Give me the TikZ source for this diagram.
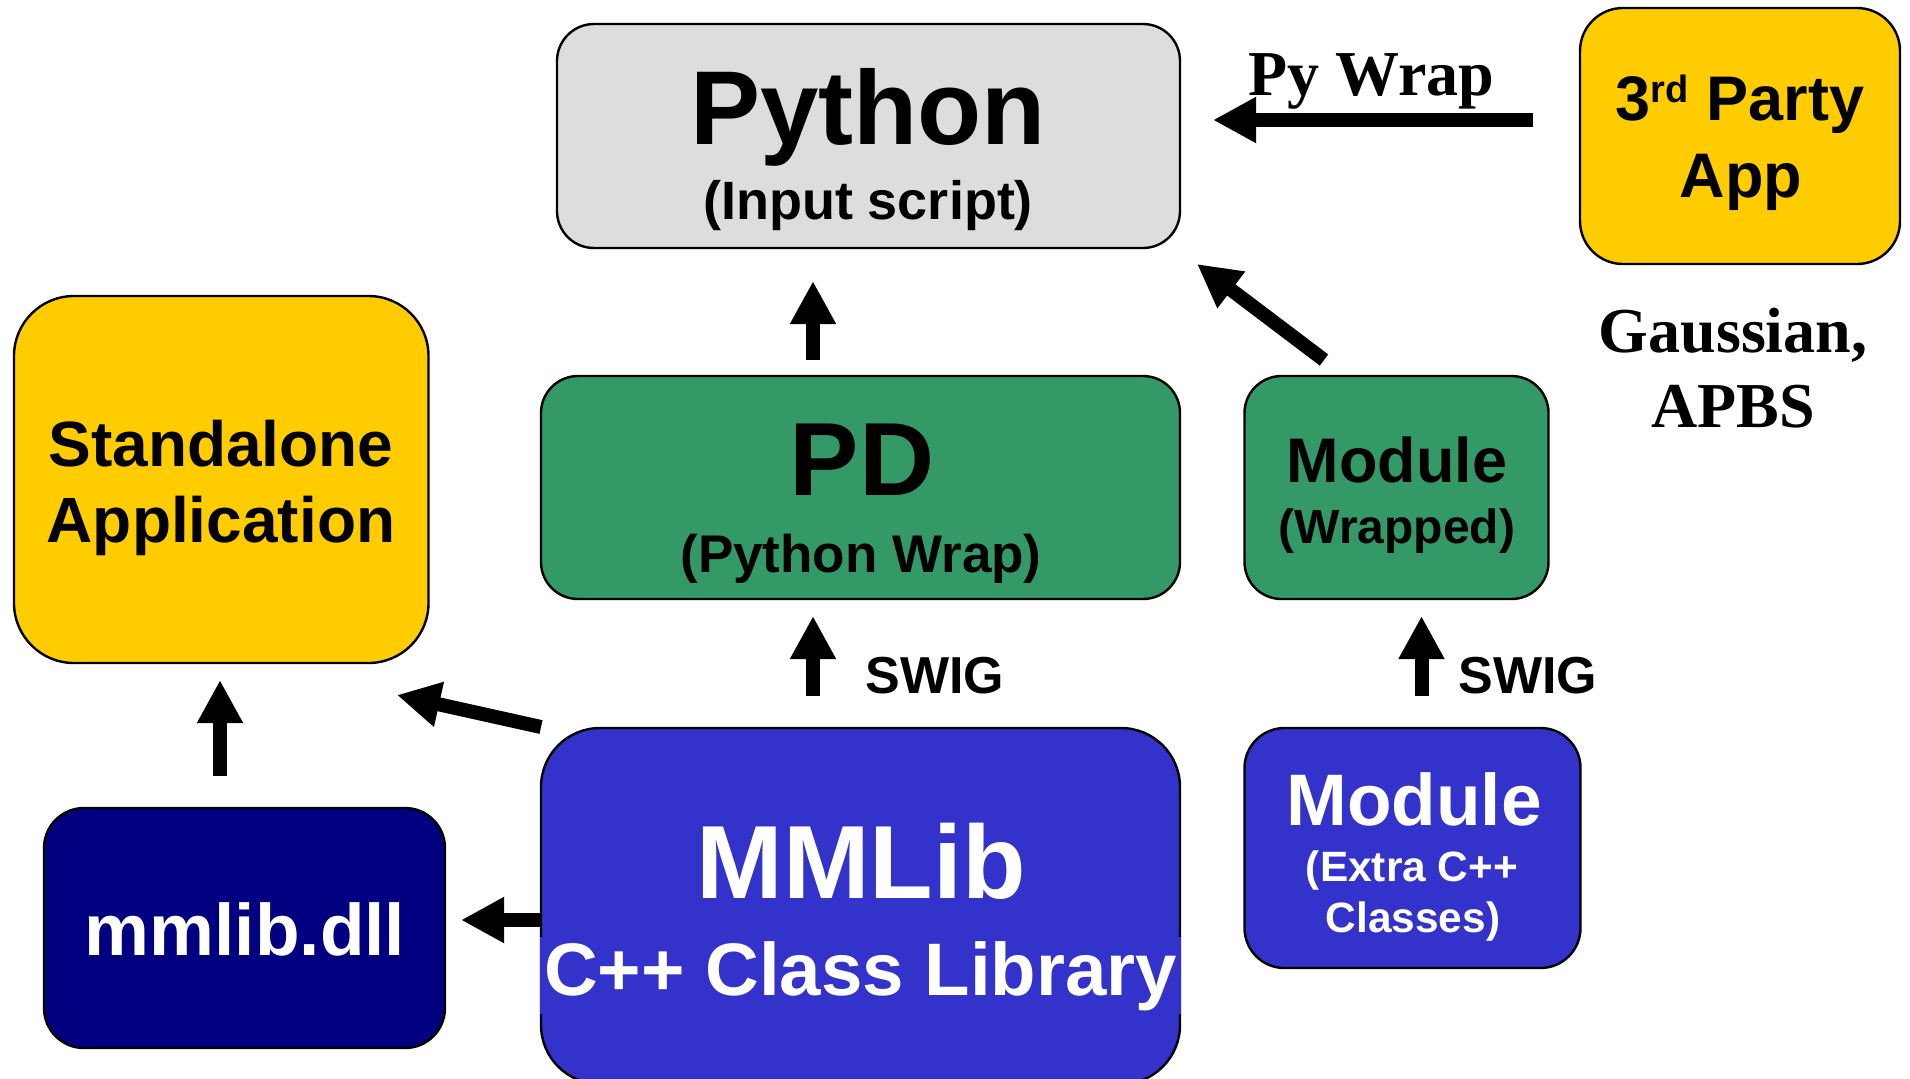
\documentclass[tikz,border=0pt]{standalone}
\usepackage{fontspec}
\setmainfont{Liberation Sans}
\newfontfamily\serifb{Liberation Serif}
\usetikzlibrary{arrows.meta}
\definecolor{boxgray}{HTML}{DDDDDD}
\definecolor{boxyellow}{HTML}{FFCC00}
\definecolor{boxgreen}{HTML}{339966}
\definecolor{boxnavy}{HTML}{000080}
\definecolor{boxblue}{HTML}{3333CC}
\newcommand\fsz[1]{\fontsize{#1}{#1}\selectfont}
\begin{document}
\begin{tikzpicture}[x=0.5pt,y=-0.5pt,
  box/.style={draw=black,line width=1.2pt,inner sep=0pt},
  lbl/.style={inner sep=0pt,anchor=base,font=\bfseries},
  wlbl/.style={lbl,text=white},
  bigarr/.style={line width=7pt,-{Triangle[length=21.5pt,width=21.5pt]}}]
\useasboundingbox (0,0) rectangle (1910,1078);

% boxes
\node[box,fill=boxgray,minimum width=311.5pt,minimum height=112pt,rounded corners=18.5pt] (python) at (868.5,136) {};
\node[box,fill=boxyellow,minimum width=207.25pt,minimum height=183.5pt,rounded corners=30pt] (standalone) at (221.25,479.5) {};
\node[box,fill=boxgreen,minimum width=319.5pt,minimum height=111.5pt,rounded corners=18.5pt] (pd) at (860.5,487.5) {};
\node[box,fill=boxgreen,minimum width=152pt,minimum height=111.5pt,rounded corners=18.5pt] (modw) at (1396.5,487.5) {};
\node[box,fill=boxyellow,minimum width=160pt,minimum height=128pt,rounded corners=21.5pt] (third) at (1740,136) {};
\node[box,fill=boxnavy,minimum width=200.5pt,minimum height=120pt,rounded corners=20pt] (dll) at (244.5,928) {};
\node[box,fill=boxblue,minimum width=319.5pt,minimum height=178pt,rounded corners=29.5pt] (mmlib) at (860.5,906) {};
\node[box,fill=boxblue,minimum width=168pt,minimum height=120pt,rounded corners=20pt] (modx) at (1412.5,848) {};

% texts
\node[lbl] (pyT1) at (868,144) {\fsz{52.5}Python};
\node[lbl] (pyT2) at (868,219) {\fsz{27}(Input script)};
\node[lbl] (pdT1) at (862,495) {\fsz{52}PD};
\node[lbl] (pdT2) at (861,572) {\fsz{26.5}(Python Wrap)};
\node[lbl] (saT1) at (221,466) {\fsz{32}Standalone};
\node[lbl] (saT2) at (221,542.5) {\fsz{32}Application};
\node[lbl] (mwT1) at (1397,482.5) {\fsz{31.5}Module};
\node[lbl] (mwT2) at (1397,543.5) {\fsz{24}(Wrapped)};
\node[lbl] (tpT1) at (1740,120.5) {\fsz{31.5}3\raisebox{9pt}{\fsz{19}rd} Party};
\node[lbl] (tpT2) at (1741,197.5) {\fsz{31.5}App};
\node[lbl,font=\serifb\bfseries] (pwT) at (1371.5,95) {\fsz{32}Py Wrap};
\node[lbl,font=\serifb\bfseries] (gaT1) at (1733,352) {\fsz{32}Gaussian,};
\node[lbl,font=\serifb\bfseries] (gaT2) at (1733,427) {\fsz{32}APBS};
\node[lbl,anchor=base west] (sw1) at (865,693) {\fsz{26}SWIG};
\node[lbl,anchor=base west] (sw2) at (1458,693) {\fsz{26}SWIG};
\node[wlbl] (dllT) at (245,955) {\fsz{36.5}mmlib.dll};
\node[wlbl] (mmT1) at (861,898) {\fsz{52}MMLib};
\node[wlbl,fill=boxblue,minimum width=320.5pt,inner ysep=2pt] (mmT2) at (860.5,995) {\fsz{37.2}C++ Class Library};
\node[wlbl] (mxT1) at (1414,825) {\fsz{36.5}Module};
\node[wlbl] (mxT2) at (1412,881.5) {\fsz{21.2}(Extra C++};
\node[wlbl] (mxT3) at (1413,932.5) {\fsz{21.2}Classes)};

% arrow end points
\coordinate (a1s) at (813,360);   \coordinate (a1e) at (813,281);
\coordinate (a2s) at (813,696);   \coordinate (a2e) at (813,616);
\coordinate (a3s) at (1421.5,696);\coordinate (a3e) at (1421.5,616);
\coordinate (a4s) at (1324,360);  \coordinate (a4e) at (1197,264);
\coordinate (a5s) at (1533,120);  \coordinate (a5e) at (1213,120);
\coordinate (a6s) at (541,727);   \coordinate (a6e) at (397,695);
\coordinate (a7s) at (220,776);   \coordinate (a7e) at (220,680);
\coordinate (a8s) at (541,920);   \coordinate (a8e) at (461,920);

\draw[bigarr] (a1s) -- (a1e);
\draw[bigarr] (a2s) -- (a2e);
\draw[bigarr] (a3s) -- (a3e);
\draw[bigarr] (a4s) -- (a4e);
\draw[bigarr] (a5s) -- (a5e);
\draw[bigarr] (a6s) -- (a6e);
\draw[bigarr] (a7s) -- (a7e);
\draw[bigarr] (a8s) -- (a8e);
\end{tikzpicture}
\end{document}
